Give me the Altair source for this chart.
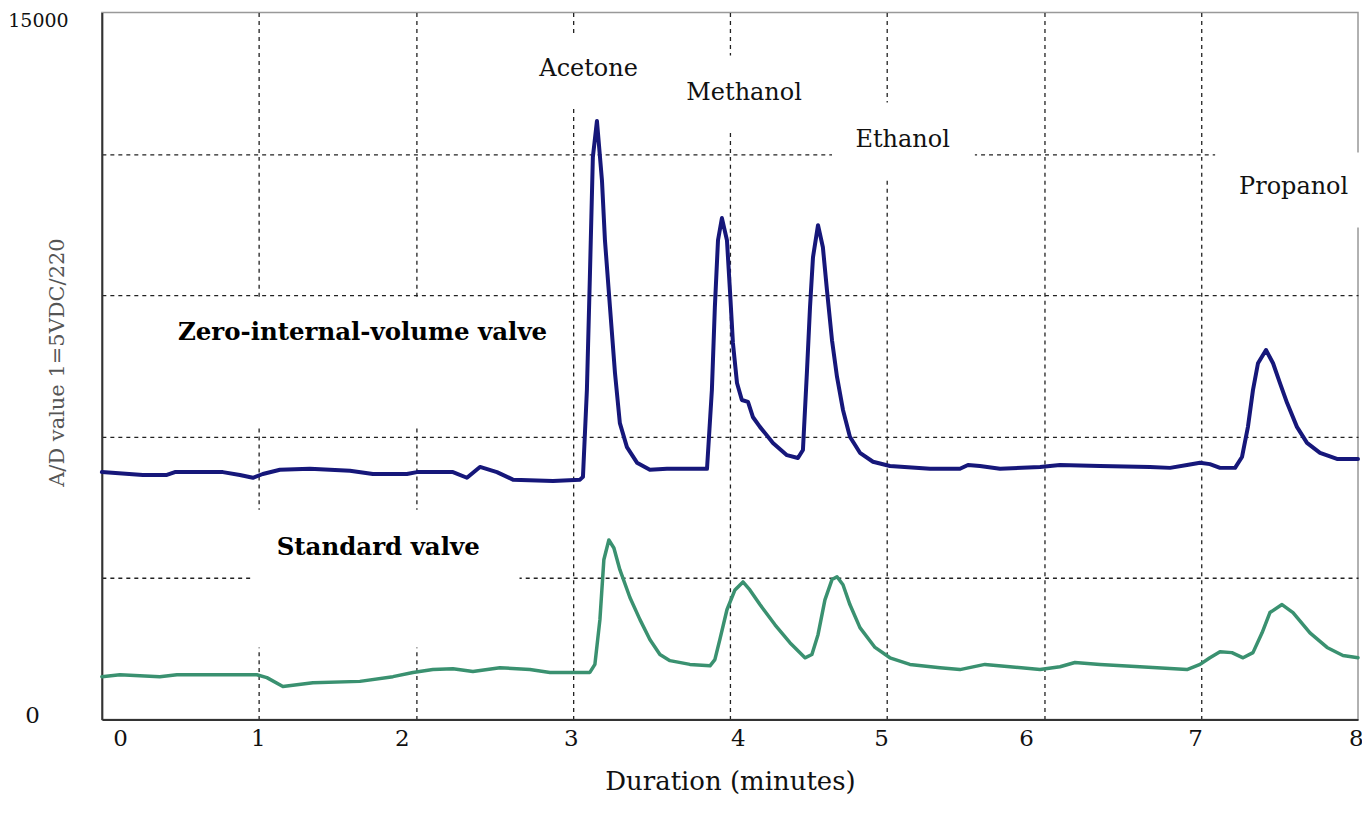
import altair as alt
import pandas as pd

# ---- Zero-internal-volume valve trace (minutes, A/D value) ----
zero_t = [0.000, 0.261, 0.414, 0.465, 0.771, 0.879, 0.962, 1.025, 1.134, 1.325, 1.580, 1.726, 1.943, 2.006,
          2.236, 2.325, 2.408, 2.516, 2.618, 2.873, 3.045, 3.064, 3.089, 3.108, 3.127, 3.153, 3.185, 3.204,
          3.236, 3.268, 3.299, 3.344, 3.408, 3.490, 3.599, 3.854, 3.885, 3.904, 3.924, 3.949, 3.981, 4.000,
          4.019, 4.045, 4.076, 4.115, 4.146, 4.191, 4.274, 4.363, 4.433, 4.465, 4.490, 4.510, 4.529, 4.561,
          4.592, 4.618, 4.650, 4.682, 4.720, 4.764, 4.828, 4.911, 5.019, 5.274, 5.465, 5.516, 5.592, 5.720,
          5.975, 6.102, 6.357, 6.675, 6.803, 6.911, 6.994, 7.057, 7.121, 7.217, 7.261, 7.299, 7.331, 7.363,
          7.414, 7.459, 7.503, 7.548, 7.611, 7.675, 7.758, 7.866, 8.000]
zero_v = [5250, 5190, 5190, 5250, 5250, 5190, 5130, 5210, 5300, 5320, 5280, 5210, 5210, 5250,
          5250, 5130, 5360, 5250, 5090, 5060, 5090, 5150, 6990, 9390, 11930, 12700, 11440, 10170,
          8750, 7350, 6290, 5780, 5450, 5300, 5320, 5320, 6990, 8750, 10170, 10640, 10170, 9110,
          7990, 7140, 6780, 6740, 6420, 6210, 5870, 5610, 5550, 5720, 7350, 8750, 9810, 10490,
          10020, 9110, 8050, 7270, 6570, 6000, 5660, 5470, 5380, 5320, 5320, 5400, 5380, 5320,
          5360, 5400, 5380, 5360, 5340, 5400, 5450, 5420, 5340, 5340, 5570, 6210, 6990, 7560,
          7840, 7560, 7140, 6720, 6210, 5870, 5660, 5530, 5530]

# ---- Standard valve trace ----
std_t = [0.000, 0.115, 0.369, 0.478, 0.987, 1.051, 1.153, 1.344, 1.643, 1.854, 1.981, 2.108, 2.236, 2.363,
         2.535, 2.726, 2.854, 3.108, 3.140, 3.172, 3.197, 3.229, 3.261, 3.299, 3.363, 3.427, 3.490, 3.554,
         3.618, 3.745, 3.873, 3.904, 3.936, 3.981, 4.032, 4.083, 4.127, 4.191, 4.287, 4.382, 4.478, 4.522,
         4.561, 4.605, 4.650, 4.682, 4.720, 4.764, 4.828, 4.924, 5.019, 5.146, 5.338, 5.465, 5.624, 5.783,
         5.975, 6.102, 6.197, 6.357, 6.611, 6.911, 6.994, 7.057, 7.121, 7.197, 7.268, 7.331, 7.389, 7.439,
         7.516, 7.586, 7.694, 7.803, 7.904, 8.000]
std_v = [910, 950, 910, 950, 950, 890, 700, 780, 810, 910, 1000, 1060, 1080, 1020,
         1100, 1060, 1000, 1000, 1170, 2120, 3390, 3810, 3640, 3180, 2590, 2120, 1700, 1380,
         1250, 1170, 1140, 1270, 1700, 2330, 2750, 2920, 2750, 2440, 2010, 1630, 1310, 1380,
         1800, 2540, 2970, 3030, 2860, 2440, 1950, 1530, 1310, 1170, 1100, 1060, 1170, 1120,
         1060, 1120, 1210, 1170, 1120, 1060, 1170, 1310, 1440, 1420, 1310, 1420, 1840, 2270,
         2440, 2270, 1840, 1530, 1360, 1310]

series_names = ["Zero-internal-volume valve", "Standard valve"]
series_colors = ["#16177a", "#3a9170"]
series_widths = [4.0, 3.5]

# ---- annotations ----
peak_names = ["Acetone", "Methanol", "Ethanol", "Propanol"]
peak_t = [3.10, 4.09, 5.10, 7.59]
peak_v = [13800, 13300, 12300, 11300]

valve_t = [1.66, 1.76]
valve_v = [8200, 3650]

# white label boxes (data units)
box_t1 = [2.69, 3.55, 4.65, 7.09, 0.37, 0.95]
box_t2 = [3.52, 4.51, 5.56, 8.02, 2.95, 2.66]
box_v1 = [12970, 12500, 11480, 10440, 6250, 1530]
box_v2 = [14510, 14090, 13090, 12030, 8960, 4450]

x_ticks = [0, 1, 2, 3, 4, 5, 6, 7, 8]
x_label_shift = [11, -1, -14, -2, 8, -6, -18, -6, 5]
y_ticks = [0, 3000, 6000, 9000, 12000, 15000]

FONT = "DejaVu Serif"

lines_df = pd.DataFrame(
    [{"t": t, "v": v, "series": series_names[0]} for t, v in zip(zero_t, zero_v)]
    + [{"t": t, "v": v, "series": series_names[1]} for t, v in zip(std_t, std_v)]
)
peaks_df = pd.DataFrame({"name": peak_names, "t": peak_t, "v": peak_v})
valves_df = pd.DataFrame({"name": series_names, "t": valve_t, "v": valve_v})
boxes_df = pd.DataFrame({"t1": box_t1, "t2": box_t2, "v1": box_v1, "v2": box_v2})

x_scale = alt.Scale(domain=[0, 8], nice=False, zero=False)
y_scale = alt.Scale(domain=[0, 15000], nice=False)

x_offset_cond = {
    "condition": [{"test": f"datum.value == {t}", "value": s} for t, s in zip(x_ticks, x_label_shift)],
    "value": 0,
}

x_axis = alt.Axis(
    values=x_ticks, format="d", title="Duration (minutes)", labelAngle=0,
    labelFont=FONT, labelFontSize=23, labelColor="#111", labelPadding=8,
    labelOffset=x_offset_cond,
    titleFont=FONT, titleFontSize=26, titleFontWeight="normal", titleColor="#111", titlePadding=18,
    ticks=False, tickSize=0, domainColor="#333", domainWidth=2,
    grid=True, gridDash=[4, 4], gridWidth=1.3,
    gridColor={"condition": {"test": "datum.value == 0 || datum.value == 8", "value": "transparent"},
               "value": "#222"},
)

y_axis = alt.Axis(
    values=y_ticks, format="d",
    labelExpr="datum.value == 0 || datum.value == 15000 ? datum.label : ''",
    labelFont=FONT, labelColor="#111", labelAlign="center", labelBaseline="middle",
    labelFontSize={"condition": {"test": "datum.value == 0", "value": 23}, "value": 19},
    labelPadding={"condition": {"test": "datum.value == 0", "value": 70}, "value": 64},
    labelOffset={"condition": {"test": "datum.value == 0", "value": -4}, "value": 8},
    title="A/D value 1=5VDC/220", titleFont=FONT, titleFontSize=21, titleFontWeight="normal",
    titleColor="#555", titleX=-34, titleY=350,
    ticks=False, tickSize=0, domainColor="#333", domainWidth=2,
    grid=True, gridDash=[4, 4], gridWidth=1.3,
    gridColor={"condition": {"test": "datum.value == 0 || datum.value == 15000", "value": "transparent"},
               "value": "#222"},
)

boxes = alt.Chart(boxes_df).mark_rect(color="white", opacity=1).encode(
    x=alt.X("t1:Q", scale=x_scale, axis=x_axis),
    x2="t2:Q",
    y=alt.Y("v1:Q", scale=y_scale, axis=y_axis),
    y2="v2:Q",
)

lines = alt.Chart(lines_df).mark_line(strokeJoin="round", strokeCap="round").encode(
    x=alt.X("t:Q", scale=x_scale),
    y=alt.Y("v:Q", scale=y_scale),
    color=alt.Color("series:N", scale=alt.Scale(domain=series_names, range=series_colors), legend=None),
    strokeWidth=alt.StrokeWidth("series:N", scale=alt.Scale(domain=series_names, range=series_widths),
                                legend=None),
    detail="series:N",
)

peak_text = alt.Chart(peaks_df).mark_text(font=FONT, fontSize=24, color="#111").encode(
    x=alt.X("t:Q", scale=x_scale), y=alt.Y("v:Q", scale=y_scale), text="name:N"
)

valve_text = alt.Chart(valves_df).mark_text(font=FONT, fontSize=24.5, fontWeight="bold", color="#000").encode(
    x=alt.X("t:Q", scale=x_scale), y=alt.Y("v:Q", scale=y_scale), text="name:N"
)

chart = alt.layer(boxes, lines, peak_text, valve_text).properties(
    width=1258, height=708,
    padding={"left": 94, "top": 4, "right": 4, "bottom": 100},
    autosize=alt.AutoSizeParams(type="none"),
    background="white",
).configure_view(stroke="#999", strokeWidth=1.5)

chart.save("out.html", embed_options={"renderer": "svg", "actions": False})
